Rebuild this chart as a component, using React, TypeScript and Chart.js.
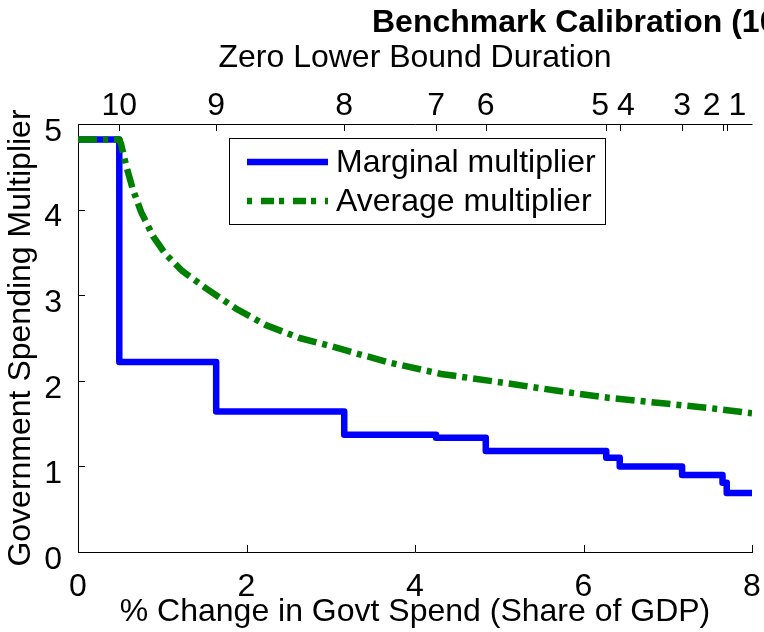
import React, { useEffect, useRef } from 'react';
import { Chart, registerables } from 'chart.js';

Chart.register(...registerables);

const FONT = "'Liberation Sans', Arial, Helvetica, sans-serif";

// Marginal multiplier (step function): x = start of each level, y = level
const marginalX = [0, 0.49, 1.64, 3.16, 4.25, 4.84, 6.27, 6.43, 7.17, 7.65, 7.7, 8];
const marginalY = [4.82, 2.22, 1.64, 1.37, 1.335, 1.18, 1.1, 1.0, 0.9, 0.81, 0.69, 0.69];

// Average multiplier
const averageX = [0, 0.49, 0.51, 0.57, 0.65, 0.75, 0.89, 1.03, 1.24, 1.52, 1.88, 2.23, 2.63, 3.02, 3.34, 3.71, 4.31, 5.03, 5.71, 6.31, 6.91, 7.51, 8.0];
const averageY = [4.82, 4.82, 4.77, 4.52, 4.24, 3.97, 3.69, 3.49, 3.28, 3.08, 2.84, 2.65, 2.5, 2.4, 2.31, 2.21, 2.08, 1.98, 1.88, 1.8, 1.74, 1.68, 1.62];

const bottomTicks = [0, 2, 4, 6, 8];
const leftTicks = [0, 1, 2, 3, 4, 5];
const zlbTickValues = [0.49, 1.64, 3.16, 4.25, 4.84, 6.27, 6.43, 7.17, 7.65, 7.7];
const zlbTickLabels = ['10', '9', '8', '7', '6', '5', '4', '3', '2', '1'];
const seriesNames = ['Marginal multiplier', 'Average multiplier'];

const titleText = 'Benchmark Calibration (10 quarters)';
const topAxisTitle = 'Zero Lower Bound Duration';
const xTitle = '% Change in Govt Spend (Share of GDP)';
const yTitle = 'Government Spending Multiplier';

const BLUE = '#0000FF';
const GREEN = '#008000';
const DASH_PLOT = [19, 6, 5, 6];
const DASH_LEGEND = [13, 5, 5, 9];
const TICK_LEN = 7;

const overlayPlugin = {
  id: 'overlay',
  afterDatasetsDraw(chart: any) {
    const ctx = chart.ctx;
    // legend box
    const bx = 229.5, by = 138.5, bw = 376, bh = 86;
    ctx.save();
    ctx.fillStyle = '#fff';
    ctx.fillRect(bx, by, bw, bh);
    ctx.strokeStyle = '#000';
    ctx.lineWidth = 1;
    ctx.strokeRect(bx, by, bw, bh);
    // samples
    ctx.lineCap = 'butt';
    ctx.lineWidth = 6.5;
    ctx.strokeStyle = BLUE;
    ctx.beginPath();
    ctx.moveTo(247, 162);
    ctx.lineTo(328, 162);
    ctx.stroke();
    ctx.strokeStyle = GREEN;
    ctx.setLineDash(DASH_LEGEND);
    ctx.lineDashOffset = 18;
    ctx.beginPath();
    ctx.moveTo(247, 201);
    ctx.lineTo(328, 201);
    ctx.stroke();
    ctx.setLineDash([]);
    ctx.fillStyle = '#000';
    ctx.font = `32px ${FONT}`;
    ctx.textAlign = 'left';
    ctx.textBaseline = 'middle';
    ctx.fillText(seriesNames[0], 336, 163);
    ctx.fillText(seriesNames[1], 336, 202);
    ctx.restore();
  },
  afterDraw(chart: any) {
    const ctx = chart.ctx;
    const { left, right, top, bottom } = chart.chartArea;
    const xs = chart.scales.x;
    const ys = chart.scales.y;
    ctx.save();
    ctx.strokeStyle = '#000';
    ctx.lineWidth = 1;
    // top axis line
    ctx.beginPath();
    ctx.moveTo(left, top + 0.5);
    ctx.lineTo(right + 0.5, top + 0.5);
    ctx.stroke();
    // inward ticks
    ctx.beginPath();
    bottomTicks.forEach((v) => {
      const px = Math.round(xs.getPixelForValue(v)) + 0.5;
      ctx.moveTo(px, bottom);
      ctx.lineTo(px, bottom - TICK_LEN);
    });
    leftTicks.forEach((v) => {
      const py = Math.round(ys.getPixelForValue(v)) + 0.5;
      ctx.moveTo(left, py);
      ctx.lineTo(left + TICK_LEN, py);
    });
    zlbTickValues.forEach((v) => {
      const px = Math.round(xs.getPixelForValue(v)) + 0.5;
      ctx.moveTo(px, top);
      ctx.lineTo(px, top + TICK_LEN);
    });
    ctx.stroke();

    // top tick labels, spread apart when they would overlap
    ctx.fillStyle = '#000';
    ctx.font = `32px ${FONT}`;
    ctx.textAlign = 'center';
    ctx.textBaseline = 'middle';
    const gap = 8;
    const items = zlbTickValues.map((v, i) => ({
      label: zlbTickLabels[i],
      px: xs.getPixelForValue(v),
      w: ctx.measureText(zlbTickLabels[i]).width,
      pos: 0,
    }));
    const groups: any[][] = [];
    items.forEach((it) => {
      const g = groups[groups.length - 1];
      if (g) {
        const prev = g[g.length - 1];
        if (it.px - prev.px < (prev.w + it.w) / 2 + gap) {
          g.push(it);
          return;
        }
      }
      groups.push([it]);
    });
    groups.forEach((g) => {
      const total = g.reduce((s, it) => s + it.w, 0) + gap * (g.length - 1);
      const center = g.reduce((s, it) => s + it.px, 0) / g.length;
      let x = center - total / 2;
      g.forEach((it) => {
        it.pos = x + it.w / 2;
        x += it.w + gap;
      });
    });
    items.forEach((it) => ctx.fillText(it.label, it.pos, 106));

    // top axis title
    ctx.fillText(topAxisTitle, (left + right) / 2, 58);

    // main title
    ctx.font = `bold 32px ${FONT}`;
    ctx.textAlign = 'left';
    ctx.fillText(titleText, 372, 23);
    ctx.restore();
  },
};

export default function App() {
  const canvasRef = useRef<HTMLCanvasElement>(null);

  useEffect(() => {
    document.body.style.margin = '0';
    const canvas = canvasRef.current;
    if (!canvas) return;
    const tickFont = { family: FONT, size: 32 };
    const chart = new Chart(canvas, {
      type: 'line',
      data: {
        datasets: [
          {
            label: seriesNames[1],
            data: averageX.map((x, i) => ({ x, y: averageY[i] })),
            borderColor: GREEN,
            borderWidth: 6.5,
            borderDash: DASH_PLOT,
            borderCapStyle: 'butt',
            borderJoinStyle: 'round',
            pointRadius: 0,
            fill: false,
            tension: 0,
            order: 0,
          },
          {
            label: seriesNames[0],
            data: marginalX.map((x, i) => ({ x, y: marginalY[i] })),
            borderColor: BLUE,
            borderWidth: 6.5,
            stepped: true,
            borderCapStyle: 'butt',
            borderJoinStyle: 'round',
            pointRadius: 0,
            fill: false,
            order: 1,
          },
        ],
      },
      options: {
        responsive: false,
        animation: false,
        devicePixelRatio: 1,
        layout: { padding: { top: 124, right: 12, left: 0, bottom: 0 } },
        plugins: {
          legend: { display: false },
          title: { display: false },
          tooltip: { enabled: false },
        },
        scales: {
          x: {
            type: 'linear',
            position: 'bottom',
            min: 0,
            max: 8,
            afterBuildTicks: (scale: any) => {
              scale.ticks = bottomTicks.map((v) => ({ value: v }));
            },
            afterFit: (scale: any) => {
              scale.height = 80;
              scale.paddingLeft = 0;
              scale.paddingRight = 0;
            },
            grid: { display: false },
            border: { display: true, color: '#000', width: 1 },
            ticks: {
              color: '#000',
              font: tickFont,
              padding: 8,
              maxRotation: 0,
              autoSkip: false,
            },
            title: {
              display: true,
              text: xTitle,
              color: '#000',
              font: tickFont,
              padding: { top: 0, bottom: 1 },
            },
          },
          y: {
            type: 'linear',
            position: 'left',
            min: 0,
            max: 5,
            afterBuildTicks: (scale: any) => {
              scale.ticks = leftTicks.map((v) => ({ value: v }));
            },
            afterFit: (scale: any) => {
              scale.width = 78;
              scale.paddingTop = 0;
              scale.paddingBottom = 0;
            },
            grid: { display: false },
            border: { display: true, color: '#000', width: 1 },
            ticks: {
              color: '#000',
              font: tickFont,
              padding: 8,
              labelOffset: 8,
              autoSkip: false,
            },
            title: {
              display: true,
              text: yTitle,
              color: '#000',
              font: tickFont,
              padding: { top: 2, bottom: 0 },
            },
          },
        },
      },
      plugins: [overlayPlugin],
    } as any);
    return () => chart.destroy();
  }, []);

  return (
    <div style={{ position: 'fixed', left: 0, top: 0, width: 764, height: 632, background: '#fff' }}>
      <canvas ref={canvasRef} width={764} height={632} style={{ display: 'block' }} />
    </div>
  );
}
